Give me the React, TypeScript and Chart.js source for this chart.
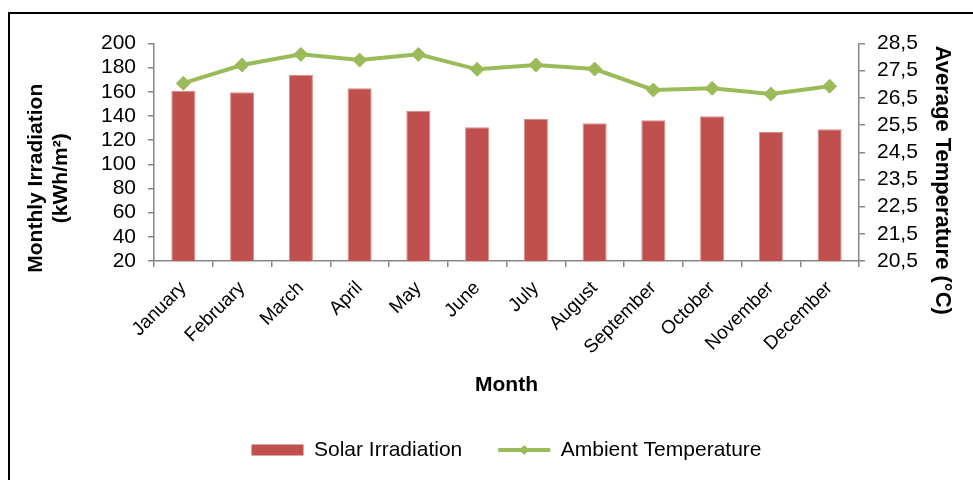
import React, { useEffect, useRef } from 'react';
import { Chart, registerables } from 'chart.js';

Chart.register(...registerables);

const months = [
  'January', 'February', 'March', 'April', 'May', 'June',
  'July', 'August', 'September', 'October', 'November', 'December',
];
const solarIrradiation = [160.9, 159.6, 174.2, 162.9, 144.1, 130.6, 137.5, 134.0, 136.4, 139.8, 126.8, 129.0];
const ambientTemperature = [27.04, 27.71, 28.1, 27.89, 28.1, 27.55, 27.71, 27.56, 26.79, 26.85, 26.64, 26.93];
const irradiationTicks = [20, 40, 60, 80, 100, 120, 140, 160, 180, 200];
const temperatureTicks = [20.5, 21.5, 22.5, 23.5, 24.5, 25.5, 26.5, 27.5, 28.5];

const FONT = "'Liberation Sans', Arial, Helvetica, sans-serif";
const AXIS_GREY = '#868686';
const RED = '#C0504D';
const GREEN = '#9BBB59';

const titleShiftPlugin = {
  id: 'titleShift',
  afterLayout(chart: any) {
    const shifts: [string, number][] = [['y', 26], ['y1', 28]];
    for (const [id, dy] of shifts) {
      const s: any = chart.scales[id];
      if (s && !s.__shifted) {
        const orig = s.drawTitle.bind(s);
        s.drawTitle = () => {
          const ctx = chart.ctx;
          ctx.save();
          ctx.translate(0, dy);
          orig();
          ctx.restore();
        };
        s.__shifted = true;
      }
    }
  },
};

const legendMarkerPlugin = {
  id: 'legendMarker',
  afterDraw(chart: any) {
    const lg: any = chart.legend;
    if (!lg || !lg.legendHitBoxes || !lg.legendItems) return;
    const idx = lg.legendItems.findIndex((it: any) => it.datasetIndex === 1);
    const hb = lg.legendHitBoxes[idx];
    if (!hb) return;
    const ctx = chart.ctx;
    const cx = hb.left + 26;
    const cy = hb.top + hb.height / 2;
    const r = 5;
    ctx.save();
    ctx.fillStyle = GREEN;
    ctx.beginPath();
    ctx.moveTo(cx - r, cy);
    ctx.lineTo(cx, cy - r);
    ctx.lineTo(cx + r, cy);
    ctx.lineTo(cx, cy + r);
    ctx.closePath();
    ctx.fill();
    ctx.restore();
  },
};

export default function App() {
  const canvasRef = useRef<HTMLCanvasElement | null>(null);

  useEffect(() => {
    const canvas = canvasRef.current;
    if (!canvas) return;
    const tickFont = { family: FONT, size: 21 };
    const chart = new Chart(canvas, {
      type: 'bar',
      data: {
        labels: months,
        datasets: [
          {
            type: 'bar',
            label: 'Solar Irradiation',
            data: solarIrradiation,
            backgroundColor: RED,
            borderColor: '#D98C8A',
            borderWidth: 1,
            barPercentage: 0.41,
            categoryPercentage: 1,
            yAxisID: 'y',
            order: 2,
          } as any,
          {
            type: 'line',
            label: 'Ambient Temperature',
            data: ambientTemperature,
            borderColor: GREEN,
            backgroundColor: GREEN,
            borderWidth: 4,
            pointStyle: 'rectRot',
            pointRadius: 7,
            pointBackgroundColor: GREEN,
            pointBorderColor: GREEN,
            pointBorderWidth: 1,
            tension: 0,
            yAxisID: 'y1',
            order: 1,
          } as any,
        ],
      },
      options: {
        animation: false,
        responsive: false,
        devicePixelRatio: 1,
        layout: { padding: { left: 0, right: 0, top: 43.5, bottom: 9.5 } },
        plugins: {
          tooltip: { enabled: false },
          legend: {
            position: 'bottom',
            fullSize: false,
            labels: {
              sort: (a: any, b: any) => a.datasetIndex - b.datasetIndex,
              usePointStyle: true,
              pointStyleWidth: 52,
              boxHeight: 11,
              padding: 36,
              color: '#000',
              font: { family: FONT, size: 21 },
              generateLabels: (c: any) => {
                const items = (Chart.defaults.plugins.legend.labels as any).generateLabels(c);
                items.forEach((it: any) => {
                  if (it.datasetIndex === 0) {
                    it.pointStyle = 'rect';
                    it.fillStyle = RED;
                    it.strokeStyle = RED;
                    it.lineWidth = 0;
                  } else {
                    it.pointStyle = 'line';
                    it.fillStyle = GREEN;
                    it.strokeStyle = GREEN;
                    it.lineWidth = 4;
                  }
                });
                return items;
              },
            },
          } as any,
        },
        scales: {
          x: {
            offset: true,
            grid: {
              display: true,
              drawOnChartArea: false,
              drawTicks: true,
              tickLength: 6,
              color: AXIS_GREY,
              lineWidth: 1.5,
              offset: true,
            },
            border: { display: true, color: AXIS_GREY, width: 1.5 },
            ticks: {
              minRotation: 45,
              maxRotation: 45,
              autoSkip: false,
              padding: 10,
              color: '#000',
              font: { family: FONT, size: 19 },
            },
            title: {
              display: true,
              text: 'Month',
              color: '#000',
              font: { family: FONT, size: 21, weight: 'bold' },
              padding: { top: 0, bottom: 6 },
            },
            afterFit: (s: any) => {
              s.height = 142.5;
            },
          } as any,
          y: {
            position: 'left',
            min: 20,
            max: 200,
            afterBuildTicks: (s: any) => {
              s.ticks = irradiationTicks.map((v) => ({ value: v }));
            },
            grid: {
              display: true,
              drawOnChartArea: false,
              drawTicks: true,
              tickLength: 6,
              color: AXIS_GREY,
              lineWidth: 1.5,
            },
            border: { display: true, color: AXIS_GREY, width: 1.5 },
            ticks: {
              autoSkip: false,
              padding: 12,
              color: '#000',
              font: tickFont,
              callback: (v: any) => String(v),
            },
            title: {
              display: true,
              text: ['Monthly Irradiation', '(kWh/m²)'],
              color: '#000',
              font: { family: FONT, size: 21, weight: 'bold' },
              padding: { top: 23.4, bottom: 0 },
            },
            afterFit: (s: any) => {
              s.width = 154;
            },
          } as any,
          y1: {
            position: 'right',
            min: 20.5,
            max: 28.5,
            afterBuildTicks: (s: any) => {
              s.ticks = temperatureTicks.map((v) => ({ value: v }));
            },
            grid: {
              display: true,
              drawOnChartArea: false,
              drawTicks: true,
              tickLength: 6,
              color: AXIS_GREY,
              lineWidth: 1.5,
            },
            border: { display: true, color: AXIS_GREY, width: 1.5 },
            ticks: {
              autoSkip: false,
              padding: 12,
              color: '#000',
              font: tickFont,
              callback: (v: any) => Number(v).toFixed(1).replace('.', ','),
            },
            title: {
              display: true,
              text: 'Average Temperature (°C)',
              color: '#000',
              font: { family: FONT, size: 22, weight: 'bold' },
              padding: { top: 18, bottom: 0 },
            },
            afterFit: (s: any) => {
              s.width = 114;
            },
          } as any,
        },
      },
      plugins: [titleShiftPlugin, legendMarkerPlugin],
    });
    return () => {
      chart.destroy();
    };
  }, []);

  return (
    <div
      style={{
        position: 'fixed',
        left: 0,
        top: 0,
        width: 973,
        height: 480,
        overflow: 'hidden',
        background: '#fff',
      }}
    >
      <div
        style={{
          position: 'absolute',
          left: 8,
          top: 12,
          width: 1200,
          height: 800,
          border: '2px solid #000',
          boxSizing: 'border-box',
        }}
      />
      <canvas
        ref={canvasRef}
        width={973}
        height={480}
        style={{ position: 'absolute', left: 0, top: 0 }}
      />
    </div>
  );
}
